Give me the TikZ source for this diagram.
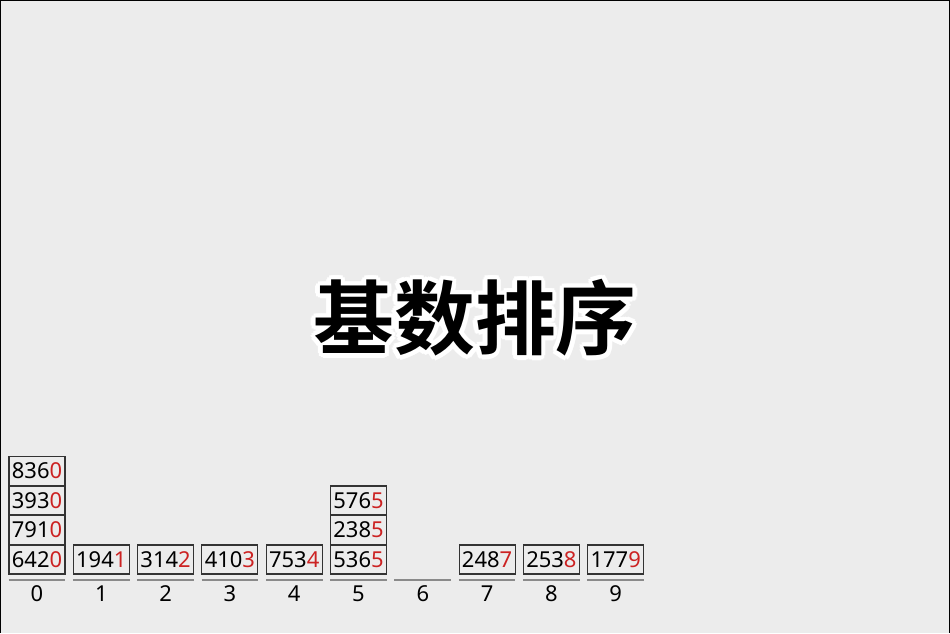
\documentclass[tikz,border=0pt]{standalone}
\usepackage{fontspec}
\setmainfont{Noto Sans}
\newfontfamily\cjk{Noto Sans CJK SC Bold}
\usetikzlibrary{positioning,calc}
\definecolor{bgray}{HTML}{ECECEC}
\definecolor{digred}{HTML}{CC2222}
\definecolor{linegray}{HTML}{8A8A8A}

\begin{document}
\begin{tikzpicture}[
    x=0.02cm, y=-0.02cm,
    cell/.style={draw=black!80, line width=0.6pt, minimum width=1.12cm, minimum height=0.58cm,
      inner sep=0pt, font=\fontsize{12.5}{14}\selectfont},
    bucket/.style={minimum width=1.12cm, minimum height=0.56cm, inner sep=0pt,
      font=\fontsize{12.5}{14}\selectfont},
    baseline/.style={draw=linegray, line width=1.1pt},
    title/.style={font=\cjk\fontsize{46}{50}\selectfont}
  ]

  % sfondo e bordo
  \fill[bgray] (0,0) rectangle (950,633);
  \useasboundingbox (0,0) rectangle (950,633);
  \draw[line width=1.2pt] (0,633) -- (0,0) -- (950,0) -- (950,633);

  % titolo con alone bianco
  \foreach \ang in {0,30,...,330}
    \node[title, white] at ($(475,318)+(\ang:0.09cm)$) {基数排序};
  \node[title] (titolo) at (475,318) {基数排序};

  % secchi 0..9
  \foreach \col in {0,...,9} {
    \node[bucket] (lab\col) at (37+64.3*\col,594) {\col};
    \draw[baseline] (lab\col.north west) -- (lab\col.north east);
  }

  % numeri nei secchi
  \foreach \col/\vals in {0/{642/0,791/0,393/0,836/0}, 1/{194/1}, 2/{314/2},
      3/{410/3}, 4/{753/4}, 5/{536/5,238/5,576/5}, 7/{248/7}, 8/{253/8}, 9/{177/9}} {
    \foreach \a/\b [count=\r from 0] in \vals
      \node[cell] (c\col-\r) at (37+64.3*\col,559.5-29.5*\r) {\a\textcolor{digred}{\b}};
  }

\end{tikzpicture}
\end{document}
